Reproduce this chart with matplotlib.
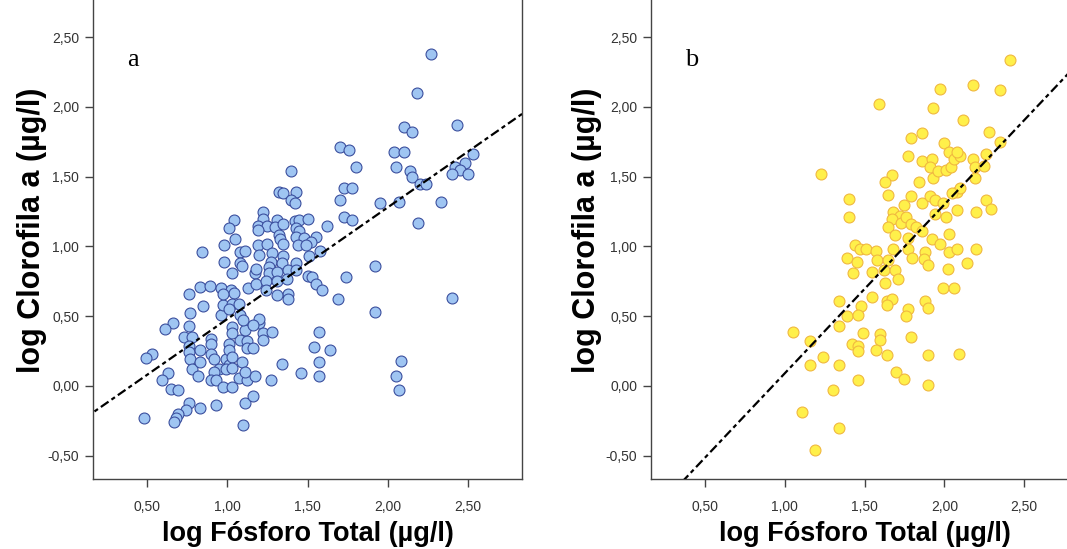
import numpy as np
import matplotlib
matplotlib.use("Agg")
import matplotlib.pyplot as plt

# Panel a: log fósforo total vs log clorofila a
fosforo_a = [
    1.70, 1.76, 1.40, 1.32, 1.35, 1.43, 1.40, 1.42, 1.73, 1.70, 1.73, 1.22, 1.22, 1.04, 1.01,
    1.19, 1.25, 1.19, 1.31, 1.30, 1.35, 1.42, 1.45, 1.50, 1.62, 1.43, 1.45, 1.32, 1.33, 1.35,
    1.43, 1.48, 1.55, 1.52, 1.44, 1.49, 0.98, 1.05, 1.19, 1.25, 0.84, 1.08, 1.11, 1.20, 1.28,
    1.35, 1.51, 1.58, 0.98, 1.08, 1.09, 1.27, 1.26, 1.34, 1.43, 1.03, 1.17, 1.18, 1.26, 1.31,
    1.38, 1.43, 1.50, 1.53, 1.55, 1.59, 1.74, 0.83, 0.89, 0.76, 0.96, 1.02, 1.04, 1.13, 1.18,
    1.24, 1.31, 1.24, 1.37, 1.38, 1.69,
    0.85, 0.77, 0.66, 0.61, 0.76, 0.73, 0.78, 0.76, 0.76, 0.77, 0.78, 0.83, 0.83, 0.82, 0.53,
    0.49, 0.63, 0.59, 0.65, 0.69, 0.76, 0.74, 0.69, 0.68, 0.67, 0.48, 0.83, 0.93, 1.11, 1.16,
    1.10, 0.90, 0.90, 0.90, 0.92, 0.95, 0.92, 0.90, 0.93, 0.97, 1.03, 0.99, 1.01, 1.01, 1.01,
    1.03, 0.99, 1.03, 1.09, 1.07, 1.12, 1.17, 1.03, 1.08, 1.12, 1.12, 1.16, 1.11, 1.20, 1.22,
    1.28, 1.27, 1.34, 1.46, 1.54, 1.57, 1.57, 1.57, 1.64, 1.38, 1.31, 1.20, 1.16, 0.96, 0.97,
    1.03, 1.07, 0.97, 1.01, 1.08, 1.10, 1.03, 1.22, 1.11,
    2.27, 2.18, 2.10, 2.15, 2.43, 2.04, 2.10, 1.80, 2.05, 2.14, 2.15, 2.20, 2.24, 2.53, 2.48,
    2.42, 2.45, 2.40, 2.50, 1.78, 1.95, 2.07, 2.33, 2.19, 1.78,
    1.92, 1.92, 2.40, 2.08, 2.05, 2.07,
]
clorofila_a = [
    1.71, 1.69, 1.54, 1.39, 1.38, 1.39, 1.33, 1.31, 1.42, 1.33, 1.21, 1.25, 1.20, 1.19, 1.13,
    1.15, 1.15, 1.12, 1.19, 1.14, 1.16, 1.18, 1.19, 1.20, 1.15, 1.13, 1.11, 1.08, 1.05, 1.02,
    1.07, 1.06, 1.07, 1.03, 1.01, 1.01, 1.01, 1.05, 1.01, 1.02, 0.96, 0.96, 0.97, 0.94, 0.95,
    0.93, 0.93, 0.97, 0.89, 0.88, 0.86, 0.89, 0.85, 0.88, 0.88, 0.81, 0.81, 0.84, 0.81, 0.82,
    0.83, 0.83, 0.79, 0.78, 0.73, 0.69, 0.78, 0.71, 0.72, 0.66, 0.70, 0.69, 0.67, 0.70, 0.73,
    0.75, 0.75, 0.69, 0.77, 0.66, 0.62,
    0.57, 0.52, 0.45, 0.41, 0.43, 0.35, 0.35, 0.29, 0.24, 0.19, 0.12, 0.26, 0.17, 0.07, 0.23,
    0.20, 0.09, 0.04, -0.02, -0.03, -0.12, -0.17, -0.20, -0.23, -0.26, -0.23, -0.16, -0.14, -0.12, -0.07,
    -0.28, 0.34, 0.30, 0.23, 0.19, 0.12, 0.10, 0.04, 0.04, -0.01, -0.01, 0.19, 0.30, 0.26, 0.15,
    0.21, 0.12, 0.13, 0.17, 0.06, 0.04, 0.07, 0.42, 0.33, 0.32, 0.27, 0.27, 0.40, 0.45, 0.38,
    0.39, 0.04, 0.16, 0.09, 0.28, 0.17, 0.07, 0.39, 0.26, 0.62, 0.65, 0.48, 0.44, 0.51, 0.58,
    0.59, 0.59, 0.66, 0.55, 0.51, 0.47, 0.38, 0.33, 0.10,
    2.38, 2.10, 1.86, 1.82, 1.87, 1.68, 1.68, 1.57, 1.57, 1.54, 1.50, 1.45, 1.45, 1.66, 1.60,
    1.57, 1.55, 1.52, 1.52, 1.42, 1.31, 1.32, 1.32, 1.17, 1.19,
    0.86, 0.53, 0.63, 0.18, 0.07, -0.03,
]

# Panel b
fosforo_b = [
    1.97, 2.18, 2.35, 1.59, 1.93, 2.12, 2.28, 2.35, 1.79, 1.86, 2.00, 1.77, 1.86, 1.92, 1.91,
    1.93, 1.96, 2.01, 2.04, 2.03, 2.06, 2.10, 2.08, 2.18, 2.19, 2.26, 2.25, 2.19, 1.67, 1.63,
    1.84, 1.23, 1.65, 1.79, 1.86, 1.91, 1.94, 1.99, 2.08, 2.10, 2.05, 2.08, 2.20, 2.26, 2.29,
    1.40, 1.40, 1.75, 1.68, 1.72, 1.67, 1.73, 1.65, 1.76, 1.79, 1.82, 1.69, 1.86, 1.94, 2.01,
    2.03, 1.77, 1.92, 1.97, 1.44, 1.47, 1.51, 1.57, 1.68, 1.77, 1.88, 2.03, 2.08, 2.20, 1.39,
    1.45, 1.58, 1.65, 1.80, 1.87, 1.90, 2.14, 1.43, 1.55, 1.62, 1.69, 1.71, 1.63, 2.02, 1.99,
    2.06, 1.34, 1.55, 1.64, 1.67, 1.64, 1.88, 1.90, 1.48, 1.39, 1.46, 1.34, 1.77, 1.76, 1.05,
    1.16, 1.49, 1.60, 1.60, 1.42, 1.46, 1.46, 1.57, 1.79, 1.24, 1.16, 1.34, 1.64, 1.90, 2.09,
    1.46, 1.70, 1.75, 1.90, 1.30, 1.11, 1.19, 1.34, 2.41,
]
clorofila_b = [
    2.13, 2.16, 2.12, 2.02, 1.99, 1.91, 1.82, 1.75, 1.78, 1.81, 1.74, 1.65, 1.61, 1.63, 1.57,
    1.49, 1.54, 1.55, 1.57, 1.68, 1.63, 1.65, 1.68, 1.63, 1.57, 1.66, 1.58, 1.49, 1.51, 1.46,
    1.46, 1.52, 1.37, 1.36, 1.31, 1.36, 1.33, 1.31, 1.39, 1.42, 1.38, 1.26, 1.25, 1.33, 1.27,
    1.34, 1.21, 1.30, 1.25, 1.22, 1.20, 1.17, 1.14, 1.21, 1.16, 1.14, 1.08, 1.11, 1.23, 1.21,
    1.09, 1.06, 1.05, 1.02, 1.01, 0.98, 0.98, 0.97, 0.98, 0.98, 0.96, 0.96, 0.98, 0.98, 0.92,
    0.89, 0.90, 0.90, 0.92, 0.91, 0.87, 0.88, 0.81, 0.82, 0.83, 0.83, 0.77, 0.74, 0.84, 0.70,
    0.70, 0.61, 0.64, 0.61, 0.62, 0.58, 0.61, 0.56, 0.57, 0.50, 0.51, 0.43, 0.55, 0.50, 0.39,
    0.32, 0.38, 0.37, 0.33, 0.30, 0.29, 0.25, 0.26, 0.35, 0.21, 0.15, 0.15, 0.22, 0.22, 0.23,
    0.04, 0.10, 0.05, 0.01, -0.03, -0.19, -0.46, -0.30, 2.34,
]

# fitted lines (slope, intercept)
fit_a = (0.80, -0.32)
fit_b = (1.21, -1.12)

ticks = [0.5, 1.0, 1.5, 2.0, 2.5]
yticks = [-0.5, 0.0, 0.5, 1.0, 1.5, 2.0, 2.5]

fig = plt.figure(figsize=(10.67, 5.49), dpi=100)
ax_a = fig.add_axes([93 / 1067, 70 / 549, 429 / 1067, 479 / 549])
ax_b = fig.add_axes([651 / 1067, 70 / 549, 427 / 1067, 479 / 549])

panels = [
    (ax_a, fosforo_a, clorofila_a, fit_a, "#9fc5f2", "#3b4f9e", "a", -0.108),
    (ax_b, fosforo_b, clorofila_b, fit_b, "#fff04a", "#f0b840", "b", -0.115),
]

tick_font = ["Liberation Sans Narrow", "Liberation Sans"]

for ax, xs, ys, fit, fc, ec, letter, ylab_x in panels:
    ax.scatter(xs, ys, s=62, facecolor=fc, edgecolor=ec, linewidths=0.8, zorder=2)
    xx = np.array([0.0, 3.0])
    ax.plot(xx, fit[0] * xx + fit[1], color="black", lw=1.6,
            linestyle=(0, (4.2, 1.6, 1.9, 1.6)), zorder=3)
    ax.set_xlim(0.1625, 2.8375)
    ax.set_ylim(-0.667, 2.767)
    ax.set_xticks(ticks)
    ax.set_yticks(yticks)
    ax.set_xticklabels([f"{t:.2f}".replace(".", ",") for t in ticks])
    ax.set_yticklabels([f"{t:.2f}".replace(".", ",") for t in yticks])
    for lab in ax.get_xticklabels() + ax.get_yticklabels():
        lab.set_family(tick_font)
        lab.set_fontsize(10)
        lab.set_color("#333333")
    ax.tick_params(direction="out", length=6, width=1, color="#444444", pad=4)
    ax.tick_params(axis="x", pad=9)
    ax.spines["top"].set_visible(False)
    for sp in ["left", "right", "bottom"]:
        ax.spines[sp].set_color("#444444")
        ax.spines[sp].set_linewidth(1)
    ax.set_xlabel("log Fósforo Total (µg/l)", fontsize=19.5, fontweight="bold",
                  family="Liberation Sans")
    ax.set_ylabel("log Clorofila a (µg/l)", fontsize=22, fontweight="bold",
                  family="Liberation Sans")
    ax.xaxis.set_label_coords(0.5, -0.088)
    ax.yaxis.set_label_coords(ylab_x, 0.52)
    ax.text(0.08, 0.875, letter, transform=ax.transAxes, fontsize=19,
            family="Liberation Serif", va="center")

fig.savefig("out.png", dpi=100)
